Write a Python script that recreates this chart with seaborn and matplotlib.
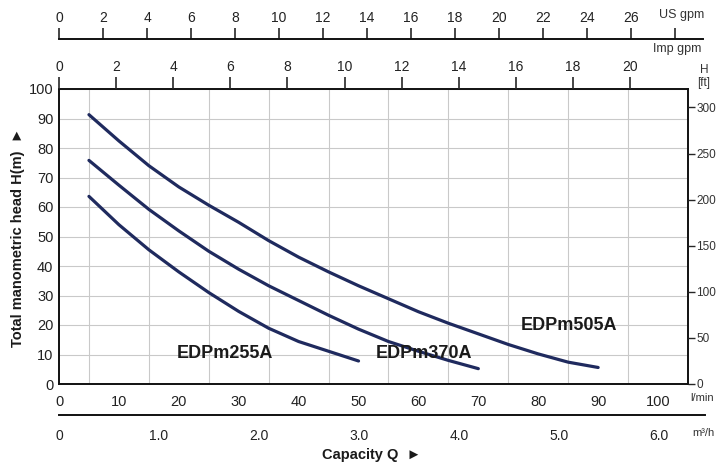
import matplotlib
matplotlib.use("Agg")
import matplotlib.pyplot as plt
import seaborn as sns
import pandas as pd
import numpy as np

# capacity (l/min) and head (m)
q_255 = [5, 10, 15, 20, 25, 30, 35, 40, 45, 50]
h_255 = [63.6, 54, 45.5, 38, 31, 24.6, 18.9, 14.4, 11.1, 7.8]

q_370 = [5, 10, 15, 20, 25, 30, 35, 40, 45, 50, 55, 60, 65, 70]
h_370 = [75.8, 67.4, 59.2, 51.9, 45, 38.9, 33.3, 28.3, 23.3, 18.6, 14.4, 11.1, 8.0, 5.2]

q_505 = [5, 10, 15, 20, 25, 30, 35, 40, 45, 50, 55, 60, 65, 70, 75, 80, 85, 90]
h_505 = [91.3, 82.4, 74.0, 66.8, 60.6, 54.8, 48.6, 43.0, 38.0, 33.3, 28.9, 24.5, 20.6, 17.0, 13.4, 10.2, 7.4, 5.6]

models = ["EDPm255A", "EDPm370A", "EDPm505A"]
label_pos = {"EDPm255A": (27.7, 10.5), "EDPm370A": (61, 10.2), "EDPm505A": (85.2, 19.7)}

lmin_ticks = list(range(0, 101, 10))
us_ticks = list(range(0, 29, 2))
imp_ticks = list(range(0, 21, 2))
m3h_ticks = [0, 1, 2, 3, 4, 5, 6]
m3h_labels = ["0", "1.0", "2.0", "3.0", "4.0", "5.0", "6.0"]
ft_ticks = [0, 50, 100, 150, 200, 250, 300]

df = pd.concat([
    pd.DataFrame({"Q": q_255, "H": h_255, "model": "EDPm255A"}),
    pd.DataFrame({"Q": q_370, "H": h_370, "model": "EDPm370A"}),
    pd.DataFrame({"Q": q_505, "H": h_505, "model": "EDPm505A"}),
])

sns.set_theme(style="white")
plt.rcParams['font.family'] = ['Liberation Sans', 'DejaVu Sans']

W, H = 721, 467
fig = plt.figure(figsize=(W / 100, H / 100), dpi=100)


def fx(px):
    return px / W


def fy(py):
    return 1 - py / H


txt = "#222222"
navy = "#1f2a5e"

# main chart
ax = fig.add_axes([fx(59), fy(384), fx(688 - 59), (384 - 89) / H])
sns.lineplot(data=df, x="Q", y="H", hue="model", palette=[navy] * 3,
             linewidth=2.3, legend=False, ax=ax, sort=False)
ax.set_xlim(0, 105)
ax.set_ylim(0, 100)
ax.set_xticks(lmin_ticks)
ax.set_xticks(np.arange(0, 106, 5), minor=True)
ax.set_yticks(range(0, 101, 10))
ax.grid(True, which="minor", axis="x", color="#c9c9c9", linewidth=0.8)
ax.grid(True, which="major", axis="y", color="#c9c9c9", linewidth=0.8)
ax.set_axisbelow(True)
ax.tick_params(axis="both", which="both", length=0, labelsize=10.5, labelcolor=txt)
ax.tick_params(axis="x", pad=8)
ax.tick_params(axis="y", pad=4)
ax.set_xlabel("")
ax.set_ylabel("")
for s in ax.spines.values():
    s.set_color("#111111")
    s.set_linewidth(1.4)

for m in models:
    x, y = label_pos[m]
    ax.text(x, y, m, ha="center", va="center", fontsize=13,
            fontweight="bold", color="#1a1a1a")

# right axis in feet
axr = ax.twinx()
axr.set_ylim(0, 100 * 3.2)
axr.set_yticks(ft_ticks)
axr.tick_params(axis="y", direction="out", length=5, width=1, labelsize=8.5,
                labelcolor="#333333", pad=1)
axr.grid(False)
for s in axr.spines.values():
    s.set_visible(False)

# Imp gpm along the top of the chart
axi = ax.twiny()
axi.set_xlim(0, 629 / 28.55)
axi.set_xticks(imp_ticks)
axi.tick_params(axis="x", direction="out", length=9, width=1.2, labelsize=10,
                labelcolor=txt, pad=2)
axi.grid(False)
for s in axi.spines.values():
    s.set_visible(False)

# US gpm scale
axu = fig.add_axes([fx(59), fy(39) - 0.01, fx(703 - 59), 0.01])
axu.set_xlim(0, (703 - 59) / 22.0)
axu.set_xticks(us_ticks)
axu.set_xticklabels([str(t) if t < 28 else "" for t in us_ticks])
axu.xaxis.tick_top()
axu.set_yticks([])
axu.tick_params(axis="x", direction="out", length=8, width=1.2, labelsize=10,
                labelcolor=txt, pad=2)
for k, s in axu.spines.items():
    s.set_visible(k == "top")
axu.spines["top"].set_linewidth(1.4)
axu.spines["top"].set_color("#111111")
axu.patch.set_alpha(0)

# m3/h scale
axm = fig.add_axes([fx(59), fy(415), fx(705 - 59), 0.01])
axm.set_xlim(0, (705 - 59) / 100.0)
axm.set_xticks(m3h_ticks)
axm.set_xticklabels(m3h_labels)
axm.set_yticks([])
axm.tick_params(axis="x", direction="out", length=7, width=1.2, labelsize=10,
                labelcolor=txt, pad=3)
for k, s in axm.spines.items():
    s.set_visible(k == "bottom")
axm.spines["bottom"].set_linewidth(1.4)
axm.spines["bottom"].set_color("#111111")
axm.patch.set_alpha(0)

# unit labels and titles
fig.text(fx(682), fy(15), "US gpm", fontsize=9, color="#333333", ha="center", va="center")
fig.text(fx(677), fy(49), "Imp gpm", fontsize=9, color="#333333", ha="center", va="center")
fig.text(fx(704), fy(70), "H", fontsize=8.5, color="#333333", ha="center", va="center")
fig.text(fx(704), fy(83), "[ft]", fontsize=8.5, color="#333333", ha="center", va="center")
fig.text(fx(702), fy(398), "l/min", fontsize=8, color="#333333", ha="center", va="center")
fig.text(fx(703), fy(433), "m³/h", fontsize=8, color="#333333", ha="center", va="center")
fig.text(fx(18), fy(237), "Total manometric head H(m)  \u25ba", rotation=90,
         fontsize=10.5, fontweight="bold", color="#1a1a1a", ha="center", va="center")
fig.text(fx(372), fy(455), "Capacity Q  \u25ba", fontsize=10.5, fontweight="bold",
         color="#1a1a1a", ha="center", va="center")

fig.savefig("out.png", dpi=100, facecolor="white")
